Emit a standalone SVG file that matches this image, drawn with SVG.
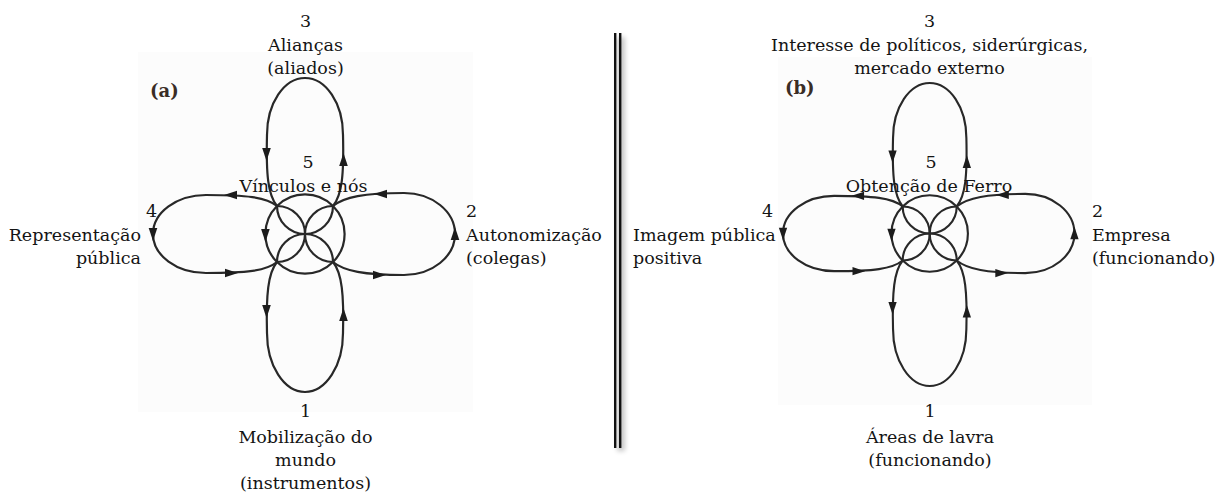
<svg xmlns="http://www.w3.org/2000/svg" xmlns:xlink="http://www.w3.org/1999/xlink" width="1231" height="497" viewBox="0 0 1231 497">
  <style>
    .lbl { font-family: "DejaVu Serif", "Liberation Serif", serif; font-size: 17.5px; fill: #141414; }
    .mid { text-anchor: middle; }
    .end { text-anchor: end; }
    .tag { font-family: "DejaVu Serif", "Liberation Serif", serif; font-weight: bold; font-size: 18px; fill: #3a2d26; }
    .ln  { fill: none; stroke: #282828; stroke-width: 2.2; }
    .ah  { fill: #1c1c1c; }
    .panel { fill: #fcfcfc; }
  </style>
  <defs>
    <!-- arrowhead, tip at origin, pointing along +x -->
    <path id="ah" d="M0,0 L-13,-4.3 L-13,4.3 Z"/>
    <filter id="shadow" x="-2" y="-0.2" width="5" height="1.4">
      <feGaussianBlur stdDeviation="2.5"/>
    </filter>
    <!-- circulation figure: four loops knotted round a central circle (centre 305,234) -->
    <g id="loops">
      <!-- loop 3 (top) -->
      <path class="ln" d="M277,206 C268,195 266,175 267,135 A38,57 0 0 1 343,135 C344,175 342,195 333,206"/>
      <!-- loop 1 (bottom) -->
      <path class="ln" d="M277,262 C268,273 266,295 267,333 A38,59 0 0 0 343,333 C344,295 342,273 333,262"/>
      <!-- loop 4 (left) -->
      <path class="ln" d="M277,206 C266,197 246,195 206,195 A53,39 0 0 0 206,273 C246,273 266,271 277,262"/>
      <!-- loop 2 (right) -->
      <path class="ln" d="M333,206 C344,197 364,193 404,193 A51,41 0 0 1 404,275 C364,275 344,271 333,262"/>
      <!-- knot: inner arcs through the centre -->
      <path class="ln" d="M277,206 A28,28 0 0 0 333,206"/>
      <path class="ln" d="M277,262 A28,28 0 0 1 333,262"/>
      <path class="ln" d="M277,206 A28,28 0 0 1 277,262"/>
      <path class="ln" d="M333,206 A28,28 0 0 0 333,262"/>
      <circle class="ln" cx="305" cy="234" r="39.6"/>
      <!-- direction arrows -->
      <g class="ah">
        <use xlink:href="#ah" transform="translate(266.5,161) rotate(90)"/>
        <use xlink:href="#ah" transform="translate(343.5,153) rotate(-90)"/>
        <use xlink:href="#ah" transform="translate(265.4,242) rotate(90)"/>
        <use xlink:href="#ah" transform="translate(224,195) rotate(180)"/>
        <use xlink:href="#ah" transform="translate(153,241) rotate(90)"/>
        <use xlink:href="#ah" transform="translate(238,273)"/>
        <use xlink:href="#ah" transform="translate(374,194) rotate(180)"/>
        <use xlink:href="#ah" transform="translate(455,227) rotate(-90)"/>
        <use xlink:href="#ah" transform="translate(386,275)"/>
        <use xlink:href="#ah" transform="translate(266.5,318) rotate(90)"/>
        <use xlink:href="#ah" transform="translate(343.5,308) rotate(-90)"/>
      </g>
    </g>
  </defs>

  <rect width="1231" height="497" fill="#ffffff"/>

  <!-- faint panel backgrounds -->
  <rect class="panel" x="138" y="52" width="335" height="360"/>
  <rect class="panel" x="778" y="57" width="314" height="348"/>

  <!-- double divider with drop shadow -->
  <g id="divider">
    <rect x="617" y="37" width="8" height="414" fill="#000" opacity="0.22" filter="url(#shadow)"/>
    <rect x="614" y="33" width="2.4" height="415" fill="#111"/>
    <rect x="619" y="33" width="2.4" height="415" fill="#111"/>
  </g>

  <g id="connectors">
    <use xlink:href="#loops"/>
    <use xlink:href="#loops" transform="translate(929.7,233.5) scale(0.965) translate(-305,-234)"/>
  </g>

  <!-- panel (a) -->
  <g id="tag-a"><text class="tag" x="150" y="97">(a)</text></g>
  <g id="a-node3">
    <text class="lbl mid" x="305.5" y="27">3</text>
    <text class="lbl mid" x="305.5" y="50.5">Alianças</text>
    <text class="lbl mid" x="305.5" y="74">(aliados)</text>
  </g>
  <g id="a-node5">
    <text class="lbl mid" x="308" y="168">5</text>
    <text class="lbl mid" x="303.5" y="191.5">Vínculos e nós</text>
  </g>
  <g id="a-node4">
    <text class="lbl" x="146" y="217">4</text>
    <text class="lbl end" x="141" y="240.5">Representação</text>
    <text class="lbl end" x="141" y="264">pública</text>
  </g>
  <g id="a-node2">
    <text class="lbl" x="466" y="217">2</text>
    <text class="lbl" x="466" y="240.5">Autonomização</text>
    <text class="lbl" x="466" y="264">(colegas)</text>
  </g>
  <g id="a-node1">
    <text class="lbl mid" x="305.5" y="416.5">1</text>
    <text class="lbl mid" x="305.5" y="443">Mobilização do</text>
    <text class="lbl mid" x="305.5" y="466">mundo</text>
    <text class="lbl mid" x="305.5" y="489">(instrumentos)</text>
  </g>

  <!-- panel (b) -->
  <g id="tag-b"><text class="tag" x="785" y="94">(b)</text></g>
  <g id="b-node3">
    <text class="lbl mid" x="929.5" y="27">3</text>
    <text class="lbl mid" x="929.5" y="50.5">Interesse de políticos, siderúrgicas,</text>
    <text class="lbl mid" x="929.5" y="74">mercado externo</text>
  </g>
  <g id="b-node5">
    <text class="lbl mid" x="931" y="168">5</text>
    <text class="lbl mid" x="929" y="191.5">Obtenção de Ferro</text>
  </g>
  <g id="b-node4">
    <text class="lbl" x="762" y="217">4</text>
    <text class="lbl" x="633" y="240.5">Imagem pública</text>
    <text class="lbl" x="633" y="264">positiva</text>
  </g>
  <g id="b-node2">
    <text class="lbl" x="1092" y="217">2</text>
    <text class="lbl" x="1092" y="240.5">Empresa</text>
    <text class="lbl" x="1092" y="264">(funcionando)</text>
  </g>
  <g id="b-node1">
    <text class="lbl mid" x="930" y="416.5">1</text>
    <text class="lbl mid" x="930" y="443">Áreas de lavra</text>
    <text class="lbl mid" x="930" y="466">(funcionando)</text>
  </g>
</svg>
